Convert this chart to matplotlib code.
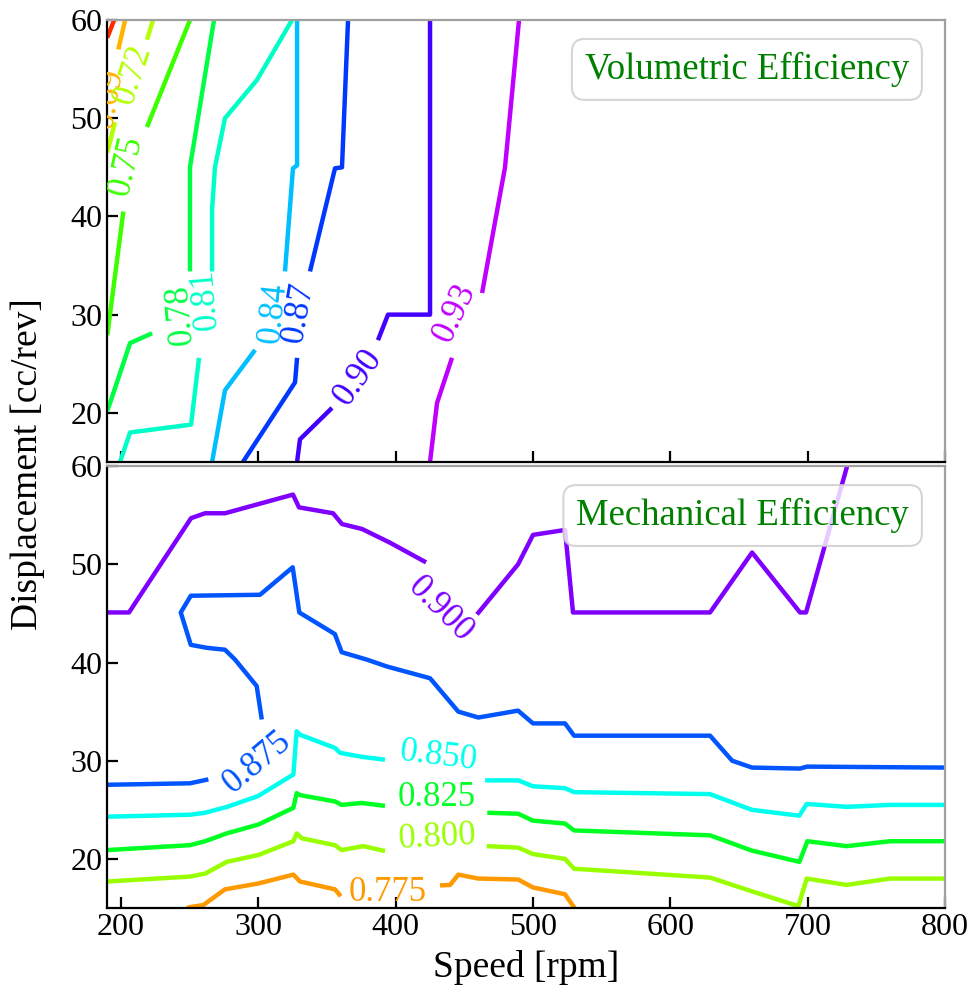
import matplotlib
matplotlib.use("Agg")
import matplotlib.pyplot as plt

plt.rcParams['font.family'] = ['Liberation Serif', 'DejaVu Serif']

# speed [rpm] on x, displacement [cc/rev] on y, contour lines
speed_ticks = [200, 300, 400, 500, 600, 700, 800]
disp_ticks = [20, 30, 40, 50, 60]

# ---- volumetric efficiency contour lines (segments split where labels sit)
vol_066 = [([190, 195], [58.2, 60])]
vol_069 = [([203, 198], [60, 57])]
vol_072 = [([223.3, 218.9], [60, 58]),
           ([195.6, 190], [49.6, 46.5])]
vol_075 = [([250.2, 218.9], [60, 49.1]),
           ([201.7, 190], [40.5, 27.9])]
vol_078 = [([267.7, 250.2, 250.2], [60, 45.0, 34.4]),
           ([222.6, 206.6, 192.0, 190], [28.1, 27.1, 21.0, 20.2])]
vol_081 = [([324.5, 299.0, 275.7, 268.4, 266.3, 266.3], [60, 53.9, 50.0, 45.0, 40.7, 34.4]),
           ([256.8, 251.0, 206.6, 199.3], [25.6, 18.8, 18.0, 15.0])]
vol_084 = [([328.2, 328.2, 325.2, 319.4], [60, 45.2, 44.9, 34.4]),
           ([297.6, 275.7, 266.3], [26.4, 22.3, 15.0])]
vol_087 = [([365.3, 360.9, 355.8, 337.6], [60, 45.0, 44.9, 34.4]),
           ([328.2, 326.7, 288.8], [25.6, 23.1, 15.0])]
vol_090 = [([425.0, 425.0, 394.4, 387.1], [60, 30.0, 30.0, 27.4]),
           ([353.6, 330.3, 328.2], [20.5, 17.3, 15.0])]
vol_093 = [([489.8, 479.6, 462.9], [60, 45.0, 32.2]),
           ([441.0, 430.1, 425.0], [25.6, 21.0, 15.0])]

vol_lines = [vol_066, vol_069, vol_072, vol_075, vol_078,
             vol_081, vol_084, vol_087, vol_090, vol_093]
vol_colors = ['#ff2a00', '#ffb400', '#b4ff00', '#3cff00', '#00ff44',
              '#00ffc8', '#00bfff', '#0038ff', '#4400ff', '#c000ff']
vol_labels = ['', '0.69', '0.72', '0.75', '0.78', '0.81', '0.84', '0.87', '0.90', '0.93']
vol_label_xy = [None, (191, 52.0), (208.7, 54.4), (203.6, 45.2), (243, 30.0),
                (261.2, 31.5), (310.7, 30.2), (328.9, 30.2), (372.6, 23.6), (443.2, 30.2)]
vol_label_rot = [0, 80, 72, 77, 95, 95, 84, 80, 55, 65]

# ---- mechanical efficiency contour lines
mech_0775 = [([248.1, 250.2, 259.9, 275.7, 300.0, 325.5, 330.3, 355.8, 360.0],
              [15.0, 15.1, 15.3, 16.9, 17.5, 18.4, 17.7, 16.9, 16.2]),
             ([432.3, 439.6, 445.6, 460.2, 489.3, 499.8, 523.3, 530.2],
              [17.3, 17.35, 18.4, 18.0, 17.9, 17.1, 16.4, 15.0])]
mech_0800 = [([190, 250.2, 261.2, 277.0, 300.0, 325.5, 327.9, 331.6, 355.8, 360.7, 376.4, 392.2],
              [17.7, 18.2, 18.5, 19.7, 20.4, 21.8, 22.6, 22.1, 21.4, 20.9, 21.3, 20.8]),
             ([466.3, 489.3, 499.8, 523.3, 529.9, 628.9, 659.3, 693.2, 699.3, 728.4, 759.9, 800],
              [21.3, 21.15, 20.5, 20.0, 19.0, 18.1, 16.7, 15.2, 18.0, 17.35, 18.0, 18.0])]
mech_0825 = [([190, 250.2, 261.2, 277.0, 300.0, 325.5, 327.9, 330.3, 355.8, 360.7, 375.3, 392.2],
              [20.9, 21.4, 21.8, 22.6, 23.5, 25.2, 26.7, 26.5, 25.85, 25.5, 25.7, 25.4]),
             ([466.7, 489.3, 499.8, 523.3, 529.9, 628.9, 659.3, 693.9, 699.8, 728.4, 759.9, 800],
              [24.7, 24.6, 23.9, 23.6, 22.9, 22.4, 20.85, 19.7, 21.8, 21.3, 21.8, 21.8])]
mech_0850 = [([190, 250.2, 261.2, 277.2, 299.8, 325.5, 327.9, 330.3, 355.8, 359.5, 375.3, 392.2],
              [24.3, 24.5, 24.7, 25.3, 26.4, 28.6, 33.0, 32.65, 31.3, 30.8, 30.4, 30.1]),
             ([465.1, 489.3, 499.8, 523.3, 529.9, 628.9, 659.3, 693.9, 699.3, 728.4, 759.9, 800],
              [28.0, 28.0, 27.4, 27.2, 26.8, 26.6, 25.0, 24.4, 25.6, 25.3, 25.5, 25.5])]
mech_0875 = [([190, 250.2, 263.6], [27.55, 27.7, 28.1]),
             ([302.5, 298.8, 283.0, 275.7, 262.4, 250.8, 243.5, 250.8, 301.2, 325.0, 329.8,
               355.7, 360.7, 378.9, 393.5, 425.0, 445.6, 460.2, 489.1, 500.0, 523.3, 529.9,
               628.9, 645.0, 659.5, 694.4, 699.5, 800],
              [34.2, 37.6, 40.3, 41.3, 41.5, 41.8, 45.1, 46.8, 46.9, 49.7, 45.1,
               42.9, 41.05, 40.3, 39.6, 38.4, 35.0, 34.4, 35.1, 33.8, 33.8, 32.55,
               32.55, 30.0, 29.3, 29.2, 29.4, 29.3])]
mech_0900 = [([190, 205.8, 251.0, 261.2, 275.7, 325.2, 329.6, 354.4, 360.9, 375.5, 395.9, 422.1],
              [45.1, 45.1, 54.7, 55.2, 55.2, 57.1, 55.8, 55.2, 54.1, 53.6, 52.2, 50.2]),
             ([459.2, 489.1, 500.0, 523.3, 529.1, 628.9, 659.5, 694.4, 698.8, 728.7, 732],
              [44.9, 50.0, 53.0, 53.5, 45.1, 45.1, 51.2, 45.1, 45.1, 60, 61.5])]

mech_lines = [mech_0775, mech_0800, mech_0825, mech_0850, mech_0875, mech_0900]
mech_colors = ['#ff9900', '#99ff00', '#00ff22', '#00ffee', '#0055ff', '#7f00ff']
mech_labels = ['0.775', '0.800', '0.825', '0.850', '0.875', '0.900']
mech_label_xy = [(394.4, 16.6), (430.1, 22.2), (430.1, 26.3), (430.8, 30.4), (299.0, 29.8), (432.3, 45.4)]
mech_label_rot = [0, 3, 0, -7, 40, -45]

fig = plt.figure(figsize=(9.78, 10.02), dpi=100)
ax1 = fig.add_axes([0.1097, 0.539, 0.8566, 0.441])
ax2 = fig.add_axes([0.1097, 0.0938, 0.8566, 0.441])


def draw_panel(ax, lines, colors, labels, label_xy, label_rot, title):
    for segs, c in zip(lines, colors):
        for xs, ys in segs:
            ax.plot(xs, ys, color=c, lw=3.2, solid_capstyle='butt', zorder=2)
    for lab, xy, rot, c in zip(labels, label_xy, label_rot, colors):
        if xy is None:
            continue
        ax.text(xy[0], xy[1], lab, color=c, fontsize=25, rotation=rot,
                ha='center', va='center', rotation_mode='anchor', zorder=3,
                clip_on=True)
    ax.set_xlim(190, 800)
    ax.set_ylim(15, 60)
    ax.set_xticks(speed_ticks)
    ax.set_yticks(disp_ticks)
    ax.tick_params(direction='in', length=8, width=1.6, labelsize=23,
                   top=False, right=False)
    for side in ['left', 'bottom']:
        ax.spines[side].set_linewidth(1.6)
        ax.spines[side].set_color('black')
    for side in ['top', 'right']:
        ax.spines[side].set_linewidth(1.6)
        ax.spines[side].set_color('#a0a0a0')
    ax.text(0.957, 0.928, title, transform=ax.transAxes, ha='right', va='top',
            fontsize=26.5, color='green', zorder=5,
            bbox=dict(boxstyle='round,pad=0.35', fc='white', ec='#cccccc',
                      lw=1.5, alpha=0.8))


draw_panel(ax1, vol_lines, vol_colors, vol_labels, vol_label_xy, vol_label_rot,
           'Volumetric Efficiency')
draw_panel(ax2, mech_lines, mech_colors, mech_labels, mech_label_xy, mech_label_rot,
           'Mechanical Efficiency')
ax1.tick_params(labelbottom=False)

ax2.set_xlabel('Speed [rpm]', fontsize=27, labelpad=6)
fig.text(0.028, 0.537, 'Displacement [cc/rev]', rotation=90, fontsize=27,
         ha='center', va='center')

fig.savefig('out.png', dpi=100)
